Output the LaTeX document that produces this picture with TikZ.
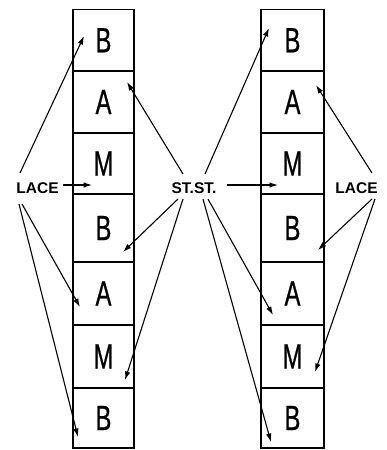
\documentclass[tikz,border=0pt]{standalone}
\usepackage{fontspec}
\setmainfont{Liberation Sans}
\newfontfamily\narrowfont[FakeStretch=0.68,FakeBold=0.6]{Liberation Sans}
\usetikzlibrary{calc,arrows.meta}
\begin{document}
\begin{tikzpicture}[x=1pt,y=-1pt,
  cellbox/.style={draw,line width=1.4pt,inner sep=0pt,font=\narrowfont\fontsize{35}{35}\selectfont},
  lcell/.style={cellbox,minimum width=61pt},
  rcell/.style={cellbox,minimum width=63pt},
  lab/.style={font=\bfseries\fontsize{15.5}{15.5}\selectfont,inner sep=0pt},
  arr/.style={line width=1.1pt,-{Latex[length=8.5pt,width=5.5pt]}}]
\useasboundingbox (0,0) rectangle (386,450);
% left column
\node[lcell,minimum height=61.5pt] (L1) at (103.5,40.25) {B};
\node[lcell,minimum height=62pt] (L2) at (103.5,102) {A};
\node[lcell,minimum height=61pt] (L3) at (103.5,163.5) {M};
\node[lcell,minimum height=68pt] (L4) at (103.5,228) {B};
\node[lcell,minimum height=63pt] (L5) at (103.5,293.5) {A};
\node[lcell,minimum height=63pt] (L6) at (103.5,356.5) {M};
\node[lcell,minimum height=60pt] (L7) at (103.5,418) {B};
% right column
\node[rcell,minimum height=61.5pt] (R1) at (292.5,40.25) {B};
\node[rcell,minimum height=62pt] (R2) at (292.5,102) {A};
\node[rcell,minimum height=61pt] (R3) at (292.5,163.5) {M};
\node[rcell,minimum height=68pt] (R4) at (292.5,228) {B};
\node[rcell,minimum height=63pt] (R5) at (292.5,293.5) {A};
\node[rcell,minimum height=63pt] (R6) at (292.5,356.5) {M};
\node[rcell,minimum height=60pt] (R7) at (292.5,418) {B};
% labels
\node[lab] (lacel) at (37.5,188) {LACE};
\node[lab] (stst) at (194,188) {ST.ST.};
\node[lab] (lacer) at (356.5,188) {LACE};
% left LACE arrows
\draw[arr] ($(lacel.center)+(-17.5,-15)$) -- ($(L1.center)+(-19.5,-4.25)$);
\draw[arr] ($(lacel.center)+(25.5,-3)$) -- ($(L3.center)+(-11.5,21.5)$);
\draw[arr] ($(lacel.center)+(-15.5,16)$) -- ($(L5.center)+(-23.5,13.5)$);
\draw[arr] ($(lacel.center)+(-18.5,16)$) -- ($(L7.center)+(-25.5,19)$);
% ST.ST. arrows
\draw[arr] ($(stst.center)+(-11,-14)$) -- ($(L2.center)+(23.5,-20)$);
\draw[arr] ($(stst.center)+(11,-14)$) -- ($(R1.center)+(-23.5,-12.25)$);
\draw[arr] ($(stst.center)+(33,-3)$) -- ($(R3.center)+(-14.5,21.5)$);
\draw[arr] ($(stst.center)+(-16,11)$) -- ($(L4.center)+(19.5,24)$);
\draw[arr] ($(stst.center)+(-11,11)$) -- ($(L6.center)+(21.5,23.5)$);
\draw[arr] ($(stst.center)+(14,11)$) -- ($(R5.center)+(-19.5,21.5)$);
\draw[arr] ($(stst.center)+(9,11)$) -- ($(R7.center)+(-21.5,24)$);
% right LACE arrows
\draw[arr] ($(lacer.center)+(15.5,-15)$) -- ($(R2.center)+(23.5,-17)$);
\draw[arr] ($(lacer.center)+(15.5,11)$) -- ($(R4.center)+(25.5,22)$);
\draw[arr] ($(lacer.center)+(18.5,11)$) -- ($(R6.center)+(22.5,15.5)$);
\end{tikzpicture}
\end{document}
